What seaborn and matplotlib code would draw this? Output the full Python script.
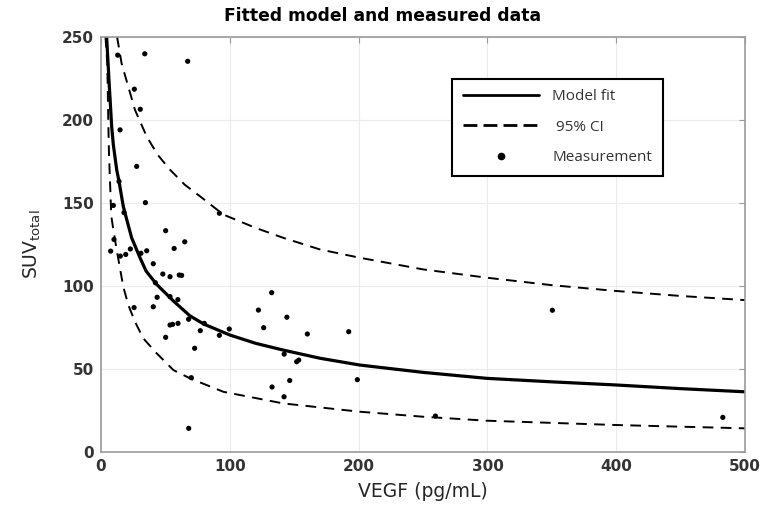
import matplotlib
matplotlib.use('Agg')
import matplotlib.pyplot as plt
import seaborn as sns
from matplotlib.lines import Line2D

# values
fit_x = [4.4, 6.2, 8.3, 9.6, 12.2, 14, 17.3, 20, 23.8, 30.3, 35, 43.2, 56.2, 69.1, 80,
         100, 120, 141.6, 170, 201, 250, 299.5, 350, 400, 450, 500]
fit_y = [250, 224, 196, 185, 170, 163, 148, 140, 129, 117, 109, 101, 91, 82, 77,
         70.5, 65.5, 61.4, 56.5, 52.4, 48, 44.4, 42.3, 40.4, 38.2, 36.3]

ci_hi_x = [12.5, 16, 21.2, 26.4, 35.5, 44, 53.6, 65, 76.9, 95, 120, 141.5, 170, 201,
           250, 299.5, 350, 400, 450, 500]
ci_hi_y = [250, 234, 220, 206, 190, 179, 170, 161, 154, 143, 135, 129, 122, 117,
           110, 105, 100.5, 97, 94, 91.5]

ci_lo_x = [3.5, 4.9, 5.7, 6.2, 8.0, 9.6, 12.2, 17.3, 21.2, 26.4, 32.8, 43.2, 56.2,
           69.1, 95, 141.5, 201, 250, 299.5, 400, 500]
ci_lo_y = [250, 234, 198, 180, 142, 134, 121.7, 99.6, 88.6, 78.5, 68.5, 59.5, 49.4,
           44.4, 36.3, 29.3, 24.3, 21.3, 18.9, 16.3, 14.3]

meas_x = [7.5, 10.1, 9.6, 13, 14.8, 14, 15, 19.2, 22.8, 17.9, 25.9, 30.5, 27.7, 34,
          34.5, 31, 35.5, 40.6, 50.2, 65, 56.8, 48, 53.6, 60.8, 62.6, 42.2, 43.6,
          53.6, 59.7, 25.7, 40.6, 68, 53.6, 55.6, 59.8, 50.2, 77.1, 80.2, 91.9, 99.6,
          72.7, 70.1, 68.1, 67.3, 91.9, 122.2, 132.5, 126.3, 144.3, 142.2, 146.5,
          132.8, 142.1, 160.2, 192.3, 151.9, 153.5, 199, 259.6, 350.4, 482.7]
meas_y = [121, 128, 148.5, 239, 194, 163, 118, 119, 122.3, 144.2, 218.5, 206.4, 172,
          239.8, 150.2, 119.7, 121.2, 113.4, 133.3, 126.6, 122.6, 107.2, 105.6, 106.6,
          106.4, 102, 93.2, 93.6, 91.8, 87, 87.5, 80, 76.5, 76.9, 77.5, 69.1, 73.1,
          77.5, 70.3, 74.1, 62.5, 44.8, 14.3, 235.3, 143.8, 85.5, 96, 74.9, 81.2, 59,
          43.1, 39.2, 33.3, 71.1, 72.5, 54.4, 55.4, 43.6, 21.7, 85.4, 20.9]

x_ticks = [0, 100, 200, 300, 400, 500]
y_ticks = [0, 50, 100, 150, 200, 250]

sns.set_theme(style="whitegrid")
plt.rcParams['font.family'] = ['DejaVu Sans']

fig = plt.figure(figsize=(7.65, 5.12), dpi=100)
ax = fig.add_axes([0.132, 0.117, 0.842, 0.811])
ax.set_facecolor('white')

dash = (0, (5.5, 3.8))
sns.lineplot(x=fit_x, y=fit_y, color='black', lw=2.3, sort=False, estimator=None, ax=ax)
sns.lineplot(x=ci_hi_x, y=ci_hi_y, color='black', lw=1.4, linestyle=dash,
             sort=False, estimator=None, ax=ax)
sns.lineplot(x=ci_lo_x, y=ci_lo_y, color='black', lw=1.4, linestyle=dash,
             sort=False, estimator=None, ax=ax)
sns.scatterplot(x=meas_x, y=meas_y, color='black', s=14, edgecolor='none', ax=ax, zorder=3)

ax.set_xlim(0, 500)
ax.set_ylim(0, 250)
ax.set_xticks(x_ticks)
ax.set_yticks(y_ticks)
ax.grid(True, color='#ebebeb', lw=0.8)
for s in ax.spines.values():
    s.set_visible(True)
    s.set_color('#9a9a9a')
    s.set_linewidth(1.2)
ax.tick_params(direction='in', top=True, right=True, length=4, width=0.8,
               color='#9a9a9a', labelsize=11, labelcolor='#333333', pad=5)
for lab in ax.get_xticklabels() + ax.get_yticklabels():
    lab.set_fontweight('bold')

ax.set_xlabel('VEGF (pg/mL)', fontsize=13.5, color='#262626', labelpad=6)
ax.set_ylabel(r'SUV$_{\mathregular{total}}$', fontsize=13.5, color='#262626', labelpad=14)
fig.text(0.5, 1 - 16 / 512, 'Fitted model and measured data', ha='center', va='center',
         fontsize=12.3, fontweight='bold', color='black')

handles = [Line2D([], [], color='black', lw=2),
           Line2D([], [], color='black', lw=2, linestyle=(0, (5, 2.2))),
           Line2D([], [], color='black', ls='none', marker='o', markersize=4.5)]
labels = ['Model fit', ' 95% CI', 'Measurement']
leg = ax.legend(handles, labels, loc='upper left', bbox_to_anchor=(0.545, 0.899),
                borderaxespad=0, frameon=True, fancybox=False, edgecolor='black',
                framealpha=1, handlelength=5.0, handletextpad=0.85, borderpad=0.7,
                labelspacing=1.0, prop={'family': 'Open Sans', 'size': 11})
leg.get_frame().set_linewidth(1.5)
for t in leg.get_texts():
    t.set_color('#333333')

plt.savefig('out.png', dpi=100)
plt.close()
